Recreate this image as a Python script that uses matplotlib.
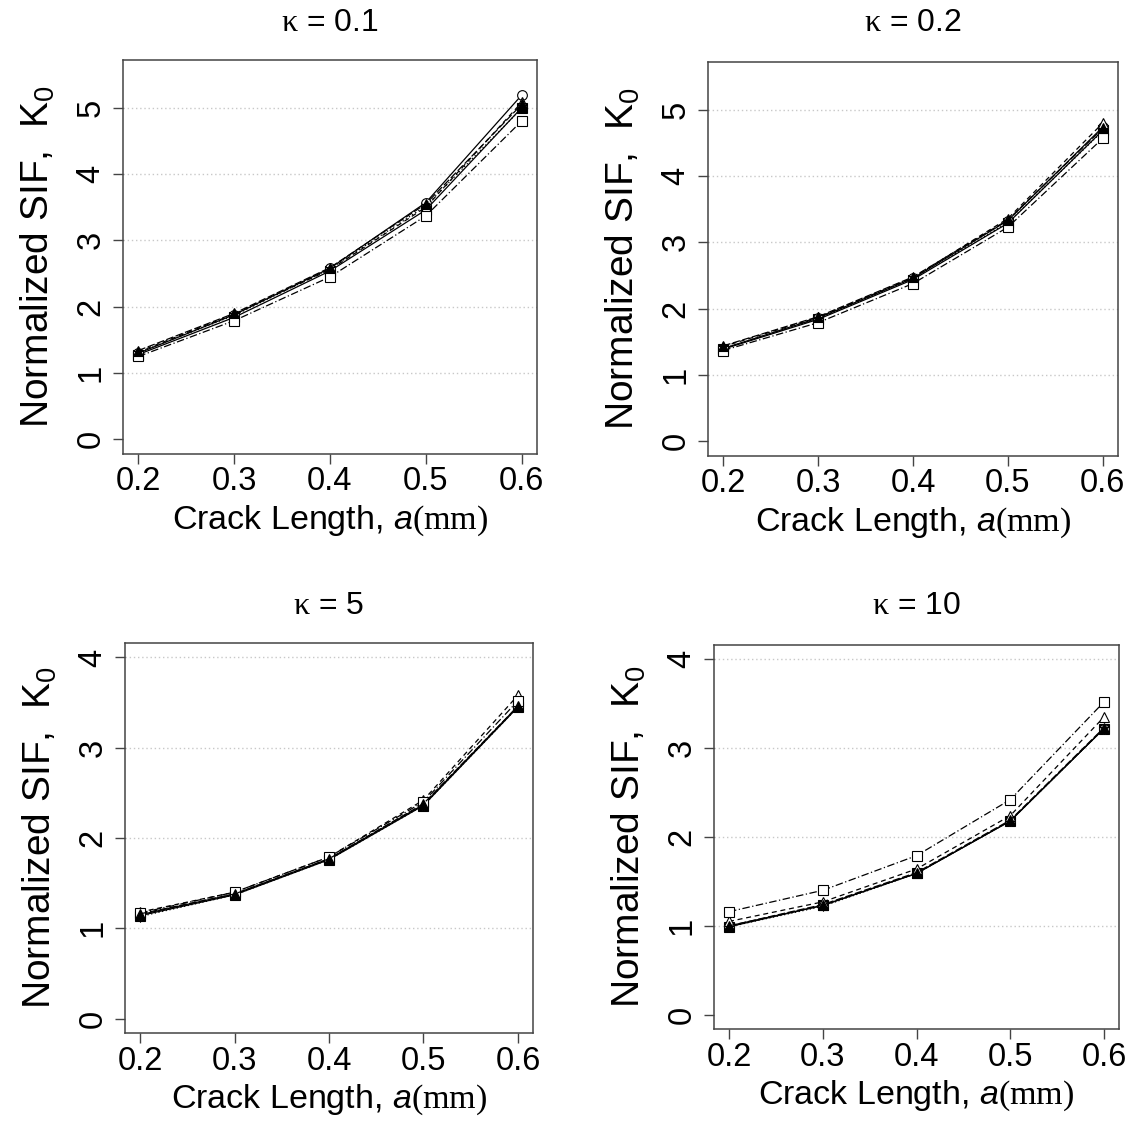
import numpy as np
import matplotlib
matplotlib.use("Agg")
import matplotlib.pyplot as plt

plt.rcParams['font.family'] = ['Liberation Sans', 'DejaVu Sans']
plt.rcParams['mathtext.fontset'] = 'custom'
plt.rcParams['mathtext.rm'] = 'Liberation Serif'
plt.rcParams['mathtext.it'] = 'Liberation Sans:italic'
plt.rcParams['mathtext.sf'] = 'Liberation Sans'

# crack length (mm)
crack_len = [0.2, 0.3, 0.4, 0.5, 0.6]

titles = [r'$\mathrm{\kappa}$ = 0.1', r'$\mathrm{\kappa}$ = 0.2',
          r'$\mathrm{\kappa}$ = 5', r'$\mathrm{\kappa}$ = 10']
y_max = [5.5, 5.5, 4, 4]

# normalized SIF per panel, one list per series
circle_open = [[1.30, 1.88, 2.58, 3.57, 5.19],
               [1.40, 1.86, 2.46, 3.33, 4.74],
               [1.15, 1.38, 1.77, 2.37, 3.46],
               [1.00, 1.23, 1.59, 2.18, 3.22]]
tri_filled = [[1.34, 1.90, 2.59, 3.55, 5.05],
              [1.44, 1.88, 2.48, 3.34, 4.72],
              [1.16, 1.38, 1.77, 2.38, 3.46],
              [1.00, 1.24, 1.60, 2.19, 3.23]]
star = [[1.31, 1.87, 2.57, 3.52, 4.99],
        [1.40, 1.85, 2.46, 3.30, 4.68],
        [1.13, 1.37, 1.76, 2.36, 3.45],
        [0.99, 1.22, 1.59, 2.18, 3.22]]
tri_open = [[1.32, 1.89, 2.56, 3.50, 5.08],
            [1.43, 1.87, 2.47, 3.36, 4.80],
            [1.18, 1.40, 1.79, 2.42, 3.58],
            [1.05, 1.27, 1.64, 2.24, 3.35]]
square_open = [[1.25, 1.79, 2.45, 3.37, 4.80],
               [1.37, 1.79, 2.38, 3.23, 4.57],
               [1.17, 1.40, 1.79, 2.40, 3.52],
               [1.16, 1.40, 1.79, 2.42, 3.52]]
square_filled = [[1.28, 1.84, 2.54, 3.46, 5.00],
                 [1.39, 1.84, 2.44, 3.29, 4.69],
                 [1.14, 1.37, 1.76, 2.36, 3.45],
                 [0.99, 1.23, 1.59, 2.18, 3.22]]

series = [
    (square_filled, dict(marker='s', ls='-', mfc='black')),
    (circle_open, dict(marker='o', ls='-', mfc='white')),
    (star, dict(marker=(6, 2, 0), ls=(0, (1, 2)), mfc='black')),
    (tri_open, dict(marker='^', ls=(0, (4, 3)), mfc='white')),
    (square_open, dict(marker='s', ls=(0, (6, 2, 1, 2)), mfc='white')),
    (tri_filled, dict(marker='^', ls=(0, (6, 2)), mfc='black')),
]

W, H = 1141, 1121
fig = plt.figure(figsize=(W / 100, H / 100), dpi=100)

# axes boxes in pixels: left, right, top, bottom
boxes = [(123, 537, 60, 454), (708, 1118, 62, 456),
         (125, 533, 643, 1033), (714, 1119, 645, 1029)]
title_y = [23, 23, 606, 606]

for i, (l, r, t, b) in enumerate(boxes):
    ax = fig.add_axes([l / W, 1 - b / H, (r - l) / W, (b - t) / H])
    for data, st in series:
        ax.plot(crack_len, data[i], color='black', lw=0.9, ms=7,
                mec='black', mew=0.8, **st)
    top = y_max[i]
    ext = 0.04 * top
    ax.set_ylim(-ext, top + ext)
    ax.set_xlim(0.2 - 0.016, 0.6 + 0.016)
    for g in range(1, int(top) + 1):
        ax.axhline(g, color='#c8c8c8', ls=(0, (1, 2)), lw=1, zorder=0)
    ax.set_xticks(crack_len)
    ax.set_xticklabels(['0.2', '0.3', '0.4', '0.5', '0.6'])
    ax.set_yticks(range(0, int(top) + 1))
    ax.tick_params(labelsize=23.5, length=7, width=1, color='#444444',
                   direction='out')
    ax.tick_params(axis='x', pad=2)
    ax.tick_params(axis='y', pad=5)
    plt.setp(ax.get_yticklabels(), rotation=90, va='center')
    for sp in ax.spines.values():
        sp.set_color('#444444')
        sp.set_linewidth(1.1)
    ax.set_xlabel(r'Crack Length, $\mathit{a}\mathrm{(mm)}$', fontsize=24.5,
                  labelpad=4)
    ax.set_ylabel(r'Normalized SIF,  $\mathsf{K_0}$', fontsize=28,
                  labelpad=13)
    fig.text((l + r) / 2 / W, 1 - title_y[i] / H, titles[i], fontsize=23,
             ha='center', va='center')

fig.savefig('out.png', dpi=100)
